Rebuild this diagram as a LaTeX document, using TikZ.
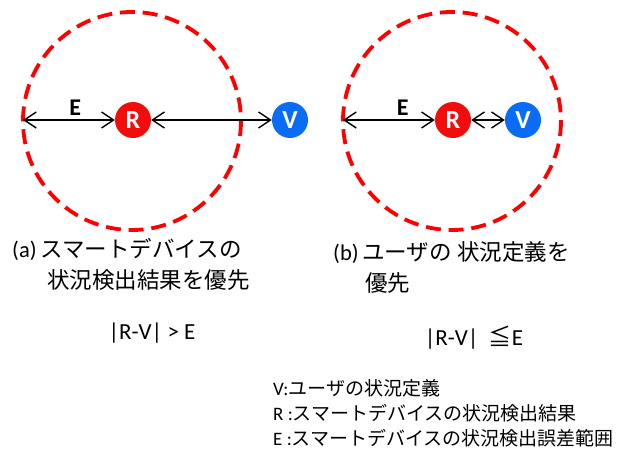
\documentclass[tikz,border=0pt]{standalone}
\usepackage{fontspec}
\setmainfont{Carlito}
\newfontfamily\jpfont{Noto Sans CJK JP}
\usetikzlibrary{arrows.meta,positioning}
\definecolor{rangeRed}{HTML}{FF0000}
\definecolor{pointRed}{HTML}{F20C0C}
\definecolor{userBlue}{HTML}{0A6CF5}
\tikzset{
    errcircle/.style={draw=rangeRed, line width=3.8pt, dash pattern=on 15pt off 7.8pt},
    pointR/.style={circle, fill=pointRed, text=white, minimum size=36pt, inner sep=0pt, font=\fontsize{26}{26}\selectfont\bfseries},
    pointV/.style={circle, fill=userBlue, text=white, minimum size=36pt, inner sep=0pt, font=\fontsize{26}{26}\selectfont\bfseries},
    dist/.style={{Straight Barb[length=12pt,width=16pt,line width=1.4pt]}-{Straight Barb[length=12pt,width=16pt,line width=1.4pt]}, line width=1.4pt, black},
    errlabel/.style={above=0pt, font=\fontsize{24}{24}\selectfont\bfseries},
    caption/.style={anchor=west, inner sep=0pt, align=left, font=\fontsize{22.5}{31}\selectfont},
    cond/.style={font=\fontsize{23}{23}\selectfont},
    legend/.style={anchor=west, inner sep=0pt, font=\fontsize{19}{25}\selectfont}
}

\begin{document}
\begin{tikzpicture}[x=1pt, y=-1pt]
    \useasboundingbox (0,0) rectangle (630,450);

    % (a) device result has priority
    \draw[errcircle] (132,121) circle (109);
    \coordinate (edgeA) at (23,120);
    \node[pointR] (devA) at (133,120) {R};
    \node[pointV] (userA) at (290,120) {V};
    \draw[dist] (edgeA) -- (devA) node[pos=0.57, errlabel] (errA) {E};
    \draw[dist] (devA) -- (userA);

    % (b) user definition has priority
    \draw[errcircle] (452,121) circle (109);
    \coordinate (edgeB) at (343,120);
    \node[pointR] (devB) at (453,120) {R};
    \node[pointV] (userB) at (523,120) {V};
    \draw[dist] (edgeB) -- (devB) node[pos=0.65, errlabel] (errB) {E};
    \draw[dist] (devB) -- (userB);

    % captions
    \node[caption] (capA) at (12,264) {(a)\,{\jpfont スマートデバイスの}\\\hspace*{35pt}{\jpfont 状況検出結果を優先}};
    \node[caption] (capB) at (333,267) {(b)\,{\jpfont ユーザの 状況定義を}\\\hspace*{32pt}{\jpfont 優先}};

    % conditions
    \node[cond] (condA) at (152,333) {|R-V| > E};
    \node[cond] (condB) at (474,338) {|R-V|\ \ {\jpfont ≦}E};

    % legend
    \node[legend] (keyV) at (273,388) {V:{\jpfont ユーザの状況定義}};
    \node[legend] (keyR) at (273,413) {R :{\jpfont スマートデバイスの状況検出結果}};
    \node[legend] (keyE) at (273,438) {E :{\jpfont スマートデバイスの状況検出誤差範囲}};
\end{tikzpicture}
\end{document}
